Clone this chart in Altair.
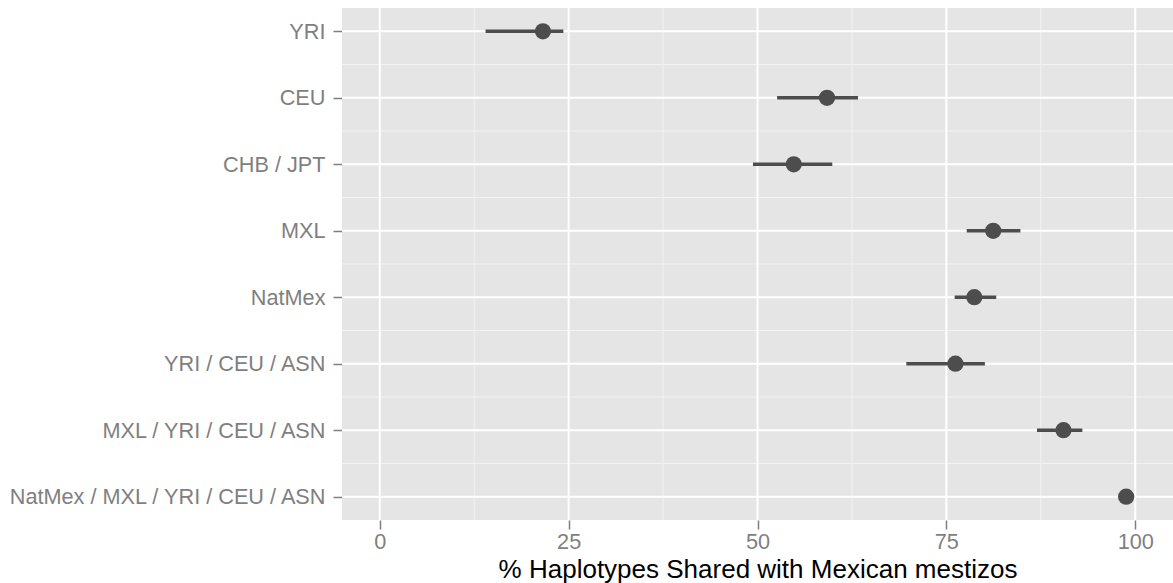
import altair as alt
import pandas as pd

# ---- data ----
groups = ["YRI", "CEU", "CHB / JPT", "MXL", "NatMex", "YRI / CEU / ASN",
          "MXL / YRI / CEU / ASN", "NatMex / MXL / YRI / CEU / ASN"]
pct = [21.6, 59.2, 54.8, 81.2, 78.7, 76.2, 90.5, 98.8]
lo = [14.0, 52.6, 49.4, 77.7, 76.1, 69.7, 87.0, 98.4]
hi = [24.3, 63.3, 59.9, 84.8, 81.6, 80.1, 93.0, 99.2]
x_major = [0, 25, 50, 75, 100]
x_minor = [12.5, 37.5, 62.5, 87.5]
y_major = [1, 2, 3, 4, 5, 6, 7, 8]
y_minor = [1.5, 2.5, 3.5, 4.5, 5.5, 6.5, 7.5]

df = pd.DataFrame({"group": groups, "pct": pct, "lo": lo, "hi": hi,
                   "idx": list(range(1, len(groups) + 1))})

label_array = "[" + ",".join("'" + g + "'" for g in groups) + "]"

FONT = "Liberation Sans"
DARK = "#4D4D4D"
GREY = "#7F7F7F"

xs = alt.Scale(domain=[-5, 105], nice=False, zero=False)
ys = alt.Scale(domain=[0.65, 8.35], nice=False, zero=False, reverse=True)

x_axis = alt.Axis(values=x_major, grid=False, domain=False,
                  tickColor=GREY, tickSize=9, tickWidth=1.5,
                  labelColor=GREY, labelFontSize=21.7, labelFont=FONT,
                  labelPadding=2.5, labelFlush=False, labelLimit=0,
                  title="% Haplotypes Shared with Mexican mestizos",
                  titleFont=FONT, titleFontSize=26,
                  titleFontWeight="normal", titleColor="black",
                  titleBaseline="alphabetic", titleY=57)
y_axis = alt.Axis(values=y_major, grid=False, domain=False,
                  tickColor=GREY, tickSize=9, tickWidth=1.5,
                  labelColor=GREY, labelFontSize=21.7, labelFont=FONT,
                  labelPadding=8, labelFlush=False, labelLimit=0,
                  labelExpr=label_array + "[datum.value - 1]",
                  title="")

minor_x = alt.Chart(pd.DataFrame({"v": x_minor})).mark_rule(
    color="#F2F2F2", strokeWidth=1).encode(x=alt.X("v:Q", scale=xs, axis=x_axis))
minor_y = alt.Chart(pd.DataFrame({"v": y_minor})).mark_rule(
    color="#F2F2F2", strokeWidth=1).encode(y=alt.Y("v:Q", scale=ys, axis=y_axis))
major_x = alt.Chart(pd.DataFrame({"v": x_major})).mark_rule(
    color="white", strokeWidth=2).encode(x=alt.X("v:Q", scale=xs, axis=x_axis))
major_y = alt.Chart(pd.DataFrame({"v": y_major})).mark_rule(
    color="white", strokeWidth=2).encode(y=alt.Y("v:Q", scale=ys, axis=y_axis))

bars = alt.Chart(df).mark_rule(color=DARK, strokeWidth=3.6).encode(
    x=alt.X("lo:Q", scale=xs, axis=x_axis),
    x2="hi:Q",
    y=alt.Y("idx:Q", scale=ys, axis=y_axis),
)

points = alt.Chart(df).mark_circle(color=DARK, opacity=1, size=264).encode(
    x=alt.X("pct:Q", scale=xs, axis=x_axis),
    y=alt.Y("idx:Q", scale=ys, axis=y_axis),
)

chart = alt.layer(minor_x, minor_y, major_x, major_y, bars, points).properties(
    width=831, height=512,
    autosize=alt.AutoSizeParams(type="none"),
    padding={"left": 342, "top": 8, "right": 0, "bottom": 63},
    background="white",
).configure_view(fill="#E5E5E5", stroke=None)

chart.save("out.html", embed_options={"renderer": "svg", "actions": False})
